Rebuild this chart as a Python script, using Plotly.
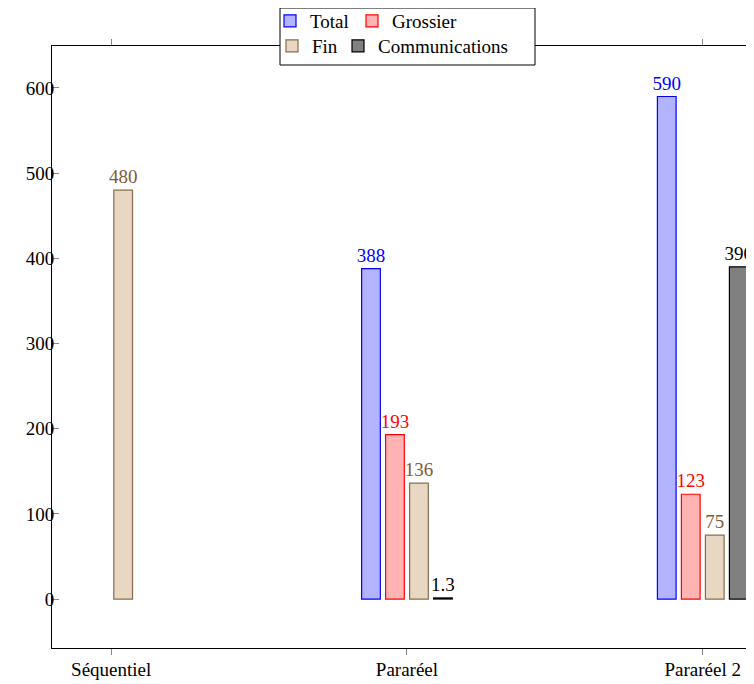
import plotly.graph_objects as go

categories = ["Séquentiel", "Pararéel", "Pararéel 2"]
x_pos = [0, 1, 2]
total = [None, 388, 590]
grossier = [None, 193, 123]
fin = [480, 136, 75]
communications = [None, 1.3, 390]
y_ticks = [0, 100, 200, 300, 400, 500, 600]

FONT = "Liberation Serif"
FS = 19
bar_w = 0.0632
series = [
    ("Total", total, "#b3b3ff", "#0000ff", "#0000ff", -0.1217, "legend"),
    ("Grossier", grossier, "#ffb3b3", "#ff0000", "#ff0000", -0.0406, "legend2"),
    ("Fin", fin, "#e8d8c3", "#8a6a48", "#7d5a38", 0.0406, "legend3"),
    ("Communications", communications, "#808080", "#000000", "#000000", 0.1217, "legend4"),
]

fig = go.Figure()
for name, vals, fill, line, tcol, off, lg in series:
    fig.add_trace(go.Bar(
        name=name, x=x_pos, y=vals, width=bar_w, offset=off - bar_w / 2,
        marker=dict(color=fill, line=dict(color=line, width=1.2)),
        text=[("" if v is None else f"{v:g}") for v in vals],
        textposition="outside", constraintext="none", cliponaxis=False,
        textfont=dict(family=FONT, size=FS, color=tcol),
        legend=lg,
    ))

# page is offset by the 8px default body margin
OFF = 8
W, H = 754 - OFF, 684 - OFF
PL, PT, PB = 52 - OFF, 46 - OFF, 648 - OFF  # plot area in figure pixels
PW = W - PL
PH = PB - PT


def leg(xpx, ycen):
    return dict(orientation="v", xref="container", yref="container",
                x=xpx / W, y=1 - ycen / H, xanchor="left", yanchor="middle",
                bgcolor="rgba(0,0,0,0)", font=dict(family=FONT, size=FS),
                itemwidth=30, tracegroupgap=0)


def px_x(p):  # page px -> paper x
    return (p - OFF - PL) / PW


def px_y(p):  # page px -> paper y
    return (PB - (p - OFF)) / PH


fig.update_layout(
    width=W, height=H,
    margin=dict(l=PL, r=0, t=PT, b=H - PB, autoexpand=False),
    plot_bgcolor="white", paper_bgcolor="white",
    font=dict(family=FONT, size=FS, color="black"),
    showlegend=True,
    barmode="overlay",
    xaxis=dict(
        range=[-0.2, -0.2 + PW / 295.8], tickmode="array", tickvals=x_pos, ticktext=categories,
        showline=True, linecolor="black", linewidth=1, mirror="allticks",
        ticks="outside", ticklen=6, tickcolor="#888888", tickwidth=1,
        showgrid=False, zeroline=False, ticklabelstandoff=-2, automargin=False,
    ),
    yaxis=dict(
        range=[-57.5, 649.3], tickmode="array", tickvals=y_ticks,
        showline=True, linecolor="black", linewidth=1, mirror=False,
        ticks="inside", ticklen=7, tickcolor="#888888", tickwidth=1,
        showgrid=False, zeroline=False, ticklabelstandoff=-7, automargin=False,
    ),
    legend=leg(262, 13),
    legend2=leg(344, 13),
    legend3=leg(264, 38),
    legend4=leg(330, 38),
    shapes=[dict(type="rect", xref="paper", yref="paper",
                 x0=px_x(280), x1=px_x(535),
                 y0=px_y(65), y1=px_y(8),
                 fillcolor="white", line=dict(color="black", width=1), layer="above")],
)

fig.write_html("out.html")
